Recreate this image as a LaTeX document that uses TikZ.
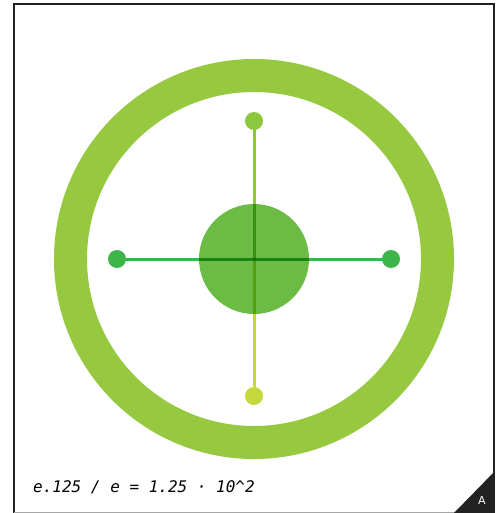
\documentclass[tikz,border=0pt]{standalone}
\usepackage{fontspec}
\setmonofont{DejaVu Sans Mono}
\setsansfont{DejaVu Sans}
\usetikzlibrary{calc}
\definecolor{ringgreen}{RGB}{150,200,64}
\definecolor{hubgreen}{RGB}{108,187,69}
\definecolor{armgreen}{RGB}{61,181,74}
\definecolor{topgreen}{RGB}{141,198,63}
\definecolor{lowgreen}{RGB}{198,217,60}
\definecolor{framegray}{RGB}{34,34,34}
\tikzset{dot/.style={circle,fill,inner sep=0pt,minimum size=18pt},
 arm/.style={line width=3pt},
 every node/.style={font=\small}}
\begin{document}
\begin{tikzpicture}[x=1pt,y=-1pt]
\useasboundingbox (0,0) rectangle (500,513);
\coordinate (C) at (254,259);
\draw[framegray,line width=1.4pt] (14,514)--(14,4)--(494,4)--(494,514);
\draw[gray!70,line width=1pt] (14,512.5)--(494,512.5);
\draw[ringgreen,line width=33pt] (C) circle (183.5);
\node[circle,fill=hubgreen,inner sep=0pt,minimum size=110pt] (hub) at (C) {};
\coordinate (west) at (117,259);
\coordinate (east) at (391,259);
\coordinate (north) at (254,121);
\coordinate (south) at (254,396);
\begin{scope}[blend mode=multiply]
\draw[arm,armgreen] (west)--(east);
\draw[arm,topgreen] (north)--(C);
\draw[arm,lowgreen] (C)--(south);
\end{scope}
\node[dot,armgreen] (westdot) at (west) {};
\node[dot,armgreen] (eastdot) at (east) {};
\node[dot,topgreen] (northdot) at (north) {};
\node[dot,lowgreen] (southdot) at (south) {};
\fill[framegray] (494,472)--(494,514)--(453,514)--cycle;
\node[white,font=\sffamily\fontsize{11}{13}\selectfont] (tag) at (482,500) {A};
\node[anchor=base west,inner sep=0pt,font=\ttfamily\itshape\fontsize{16}{19}\selectfont] (formula) at (33,492) {e.125 / e = 1.25 · 10\textasciicircum 2};
\end{tikzpicture}
\end{document}
